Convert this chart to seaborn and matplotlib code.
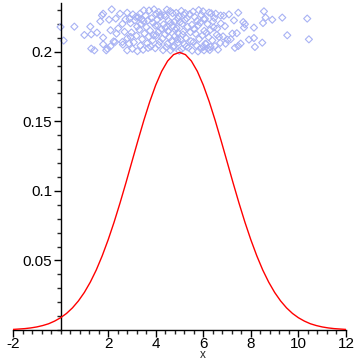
import matplotlib
matplotlib.use("Agg")
import matplotlib.pyplot as plt
import seaborn as sns
import pandas as pd
from matplotlib.ticker import MultipleLocator

sns.set_style("ticks")
plt.rcParams["font.family"] = ["Liberation Sans", "DejaVu Sans"]

# curve: density at x = -2 .. 12, step 0.25
curve_x = [-2 + 0.25 * i for i in range(57)]
curve_y = [0.0004, 0.0007, 0.0010, 0.0015, 0.0022, 0.0032, 0.0045, 0.0064,
           0.0088, 0.0119, 0.0159, 0.0209, 0.0270, 0.0344, 0.0431, 0.0533,
           0.0648, 0.0775, 0.0913, 0.1059, 0.1210, 0.1360, 0.1506, 0.1641,
           0.1760, 0.1859, 0.1933, 0.1979, 0.1995,
           0.1979, 0.1933, 0.1859, 0.1760, 0.1641, 0.1506, 0.1360, 0.1210,
           0.1059, 0.0913, 0.0775, 0.0648, 0.0533, 0.0431, 0.0344, 0.0270,
           0.0209, 0.0159, 0.0119, 0.0088, 0.0064, 0.0045, 0.0032, 0.0022,
           0.0015, 0.0010, 0.0007, 0.0004]

# scattered sample points near the top
pt_x = [0.00, 0.13, 0.58, 1.25, 1.00, 1.29, 1.53, 1.67, 1.79, 1.74, 1.79, 1.79,
        1.29, 1.42, 1.92, 2.15, 2.50, 2.80, 2.04, 2.32, 2.60, 2.90, 3.16, 3.34,
        3.50, 2.10, 2.35, 1.97, 2.10, 2.29, 2.60, 2.88, 2.80, 2.95,
        5.99, 6.52, 6.73, 7.08, 7.47, 7.29, 7.68, 7.71, 8.13, 8.55, 8.62, 8.51,
        8.90, 9.32, 10.37, 9.53, 10.44, 8.48, 8.13, 7.92, 8.17, 7.57, 7.47, 7.22,
        7.15, 6.94, 6.66, 6.58, 6.03, 6.31, 7.75,
        3.72, 4.13, 4.47, 4.86, 5.08, 5.57, 5.81, 6.24, 4.61, 3.93,
        3.04, 3.58, 4.02, 4.36, 4.71, 4.97, 5.43, 5.92, 6.33, 6.86, 5.19,
        3.27, 3.83, 4.21, 4.93, 5.64, 6.07, 6.46, 4.42, 5.31, 2.73,
        3.12, 3.49, 4.06, 4.54, 4.79, 5.23, 5.74, 6.02, 6.41, 3.67, 5.02,
        2.94, 3.38, 3.88, 4.33, 4.63, 5.12, 5.52, 5.87, 6.18, 6.74, 4.09,
        3.22, 3.61, 3.99, 4.41, 4.72, 4.88, 5.34, 5.79, 6.44, 6.91, 2.42,
        3.31, 3.76, 4.24, 4.51, 4.83, 5.16, 5.61, 6.04, 6.29, 2.69,
        2.98, 3.53, 4.11, 4.39, 4.92, 5.14, 5.46, 5.68, 6.13, 6.57, 7.41,
        3.19, 3.71, 4.03, 4.58, 4.81, 5.27, 5.96, 6.22, 6.83, 2.81,
        3.43, 3.87, 4.28, 4.67, 5.04, 5.48, 5.83, 6.38, 7.02, 2.23,
        3.08, 3.64, 4.17, 4.49, 4.94, 5.21, 5.59, 6.09, 6.71, 2.62,
        3.36, 3.79, 4.12, 4.44, 4.77, 5.38, 5.71, 6.01, 6.49, 7.33,
        3.02, 3.47, 3.98, 4.62, 5.09, 5.53, 5.89, 6.27,
        3.23, 3.68, 4.31, 4.74, 4.99, 5.29, 5.78, 6.19, 6.62,
        3.41, 3.91, 4.19, 4.53, 4.91, 5.24, 5.63, 6.11]
pt_y = [0.2178, 0.2080, 0.2180, 0.2180, 0.2120, 0.2125, 0.2137, 0.2218, 0.2273,
        0.2261, 0.2101, 0.2053, 0.2022, 0.2010, 0.2010, 0.2304, 0.2273, 0.2280,
        0.2230, 0.2238, 0.2200, 0.2236, 0.2250, 0.2273, 0.2297, 0.2154, 0.2130,
        0.2022, 0.2039, 0.2070, 0.2070, 0.2058, 0.2010, 0.2106,
        0.2290, 0.2273, 0.2260, 0.2268, 0.2280, 0.2225, 0.2213, 0.2173, 0.2173,
        0.2290, 0.2245, 0.2206, 0.2230, 0.2245, 0.2238, 0.2118, 0.2089, 0.2065,
        0.2098, 0.2087, 0.2034, 0.2058, 0.2041, 0.2130, 0.2090, 0.2058, 0.2106,
        0.2166, 0.2010, 0.2034, 0.2198,
        0.2296, 0.2285, 0.2302, 0.2279, 0.2293, 0.2288, 0.2299, 0.2281, 0.2291, 0.2304,
        0.2268, 0.2259, 0.2273, 0.2262, 0.2277, 0.2256, 0.2270, 0.2264, 0.2276, 0.2258, 0.2266,
        0.2247, 0.2241, 0.2252, 0.2238, 0.2249, 0.2236, 0.2243, 0.2254, 0.2240, 0.2233,
        0.2226, 0.2219, 0.2231, 0.2222, 0.2216, 0.2228, 0.2221, 0.2234, 0.2218, 0.2225, 0.2212,
        0.2205, 0.2198, 0.2210, 0.2196, 0.2207, 0.2201, 0.2193, 0.2209, 0.2199, 0.2203, 0.2188,
        0.2181, 0.2176, 0.2187, 0.2172, 0.2184, 0.2169, 0.2179, 0.2190, 0.2174, 0.2183, 0.2167,
        0.2159, 0.2152, 0.2163, 0.2148, 0.2157, 0.2145, 0.2161, 0.2150, 0.2156, 0.2143,
        0.2138, 0.2131, 0.2142, 0.2126, 0.2135, 0.2123, 0.2140, 0.2129, 0.2136, 0.2121, 0.2133,
        0.2114, 0.2108, 0.2119, 0.2102, 0.2112, 0.2099, 0.2116, 0.2105, 0.2110, 0.2097,
        0.2090, 0.2083, 0.2094, 0.2079, 0.2088, 0.2076, 0.2092, 0.2081, 0.2086, 0.2074,
        0.2067, 0.2060, 0.2071, 0.2056, 0.2065, 0.2053, 0.2069, 0.2058, 0.2063, 0.2051,
        0.2044, 0.2037, 0.2048, 0.2033, 0.2042, 0.2030, 0.2046, 0.2035, 0.2040, 0.2028,
        0.2021, 0.2014, 0.2025, 0.2010, 0.2019, 0.2008, 0.2023, 0.2012,
        0.2004, 0.2027, 0.2011, 0.2031, 0.2006, 0.2038, 0.2002, 0.2024, 0.2015,
        0.2232, 0.2117, 0.2264, 0.2148, 0.2089, 0.2277, 0.2163, 0.2055]

x_ticks = [-2, 2, 4, 6, 8, 10, 12]
y_ticks = [0.05, 0.1, 0.15, 0.2]
y_labels = ["0.05", "0.1", "0.15", "0.2"]

curve = pd.DataFrame({"x": curve_x, "y": curve_y})
pts = pd.DataFrame({"x": pt_x, "y": pt_y})

fig = plt.figure(figsize=(3.62, 3.62), dpi=100)
ax = fig.add_axes([13 / 362, 32 / 362, 333 / 362, 327 / 362])

sns.scatterplot(data=pts, x="x", y="y", ax=ax, marker="D", s=13,
                facecolors="none", edgecolor="#a8b2f4", linewidth=0.8, zorder=2)
sns.lineplot(data=curve, x="x", y="y", ax=ax, color="#ff0000", linewidth=1.0,
             zorder=3)

ax.set_xlim(-2, 12)
ax.set_ylim(0, 0.235)
ax.spines["left"].set_position(("data", 0))
ax.spines["bottom"].set_position(("data", 0))
ax.spines["top"].set_visible(False)
ax.spines["right"].set_visible(False)
for s in ("left", "bottom"):
    ax.spines[s].set_linewidth(1.0)
    ax.spines[s].set_color("black")

ax.set_xticks(x_ticks)
ax.set_xticklabels([str(t) for t in x_ticks])
ax.set_yticks(y_ticks)
ax.set_yticklabels(y_labels)
ax.xaxis.set_minor_locator(MultipleLocator(0.4))
ax.yaxis.set_minor_locator(MultipleLocator(0.01))
ax.tick_params(axis="both", which="major", length=5, width=1, labelsize=11,
               direction="out", colors="black")
ax.tick_params(axis="x", which="major", pad=0)
ax.tick_params(axis="y", which="major", pad=1)
ax.tick_params(axis="both", which="minor", length=3, width=1, direction="out")

ax.set_xlabel("")
ax.set_ylabel("")
fig.text(203 / 362, 1 / 362, "x", fontsize=8.5, ha="center", va="bottom")

fig.savefig("out.png", dpi=100)
